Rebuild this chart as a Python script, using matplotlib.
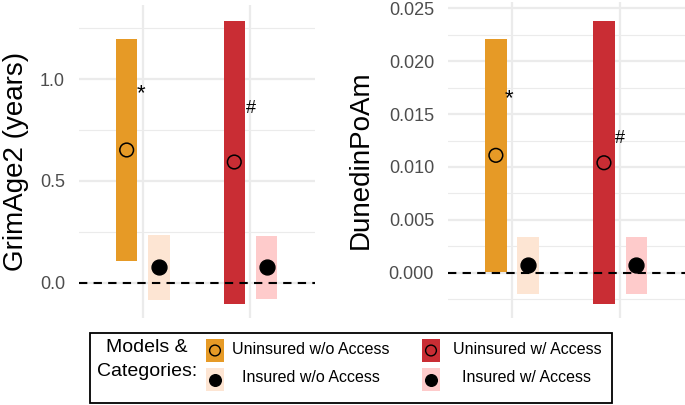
import numpy as np
import matplotlib
matplotlib.use("Agg")
from matplotlib import pyplot as plt
from matplotlib.patches import Rectangle

plt.rcParams['font.family'] = ['Liberation Sans', 'DejaVu Sans']

# data
groups = [1, 2]  # without access, with access

grim_unins_mean = [0.652, 0.593]
grim_unins_lo = [0.108, -0.103]
grim_unins_hi = [1.196, 1.284]
grim_ins_mean = [0.078, 0.078]
grim_ins_lo = [-0.083, -0.078]
grim_ins_hi = [0.235, 0.230]

dun_unins_mean = [0.0111, 0.0104]
dun_unins_lo = [0.0001, -0.0029]
dun_unins_hi = [0.0221, 0.0238]
dun_ins_mean = [0.00075, 0.00075]
dun_ins_lo = [-0.0020, -0.0020]
dun_ins_hi = [0.0034, 0.0034]

grim_marks = ['*', '#']
grim_mark_y = [0.926, 0.857]
dun_marks = ['*', '#']
dun_mark_y = [0.0164, 0.0127]

legend_labels = ['Uninsured w/o Access', 'Insured w/o Access',
                 'Uninsured w/ Access', 'Insured w/ Access']

dark = ['#E69A26', '#C92D34']
light = ['#FDE5D3', '#FECBCB']

W, H = 685, 405
fig = plt.figure(figsize=(6.85, 4.05), dpi=100)


def panel(rect, mean_u, lo_u, hi_u, mean_i, lo_i, hi_i, ylim, major, minor,
          fmt, ylabel, marks, mark_y, mark_dx, mark_size, lpad):
    ax = fig.add_axes(rect)
    x = np.array(groups, dtype=float)
    lo_u = np.array(lo_u); hi_u = np.array(hi_u)
    lo_i = np.array(lo_i); hi_i = np.array(hi_i)
    ax.bar(x - 0.15, hi_u - lo_u, bottom=lo_u, width=0.2, color=dark, zorder=2)
    ax.bar(x + 0.15, hi_i - lo_i, bottom=lo_i, width=0.2, color=light, zorder=2)
    ax.scatter(x - 0.15, mean_u, s=97, facecolors='none', edgecolors='black',
               linewidths=1.1, zorder=4)
    ax.scatter(x + 0.15, mean_i, s=115, color='black', zorder=4)
    ax.axhline(0, color='black', lw=1.5, ls=(0, (4, 3)), zorder=3)
    for xi, m, yv, dx, fs in zip(x, marks, mark_y, mark_dx, mark_size):
        ax.text(xi + dx, yv, m, ha='center', va='center', fontsize=fs, zorder=5)
    ax.set_xlim(0.407, 2.6)
    ax.set_ylim(*ylim)
    ax.set_yticks(major)
    ax.set_yticklabels([fmt.format(v) for v in major])
    ax.set_yticks(minor, minor=True)
    ax.set_xticks(groups)
    ax.set_xticklabels([])
    ax.grid(True, which='major', color='#EBEBEB', lw=1.6, zorder=0)
    ax.grid(True, which='minor', axis='y', color='#EBEBEB', lw=0.8, zorder=0)
    ax.set_axisbelow(True)
    for s in ax.spines.values():
        s.set_visible(False)
    ax.tick_params(axis='both', which='both', length=0)
    ax.tick_params(axis='y', labelsize=13, labelcolor='#4D4D4D', pad=10)
    ax.set_ylabel(ylabel, fontsize=20, labelpad=lpad)
    return ax


bottom = 1 - 318 / H
ax1 = panel([79 / W, bottom, (315 - 79) / W, (318 - 5) / H],
            grim_unins_mean, grim_unins_lo, grim_unins_hi,
            grim_ins_mean, grim_ins_lo, grim_ins_hi,
            (-0.172, 1.363), [0.0, 0.5, 1.0], [0.25, 0.75, 1.25],
            '{:.1f}', 'GrimAge2 (years)', grim_marks, grim_mark_y,
            [-0.02, 0.0], [16, 13], 8)

ax2 = panel([448 / W, bottom, (685 - 448) / W, (318 - 2) / H],
            dun_unins_mean, dun_unins_lo, dun_unins_hi,
            dun_ins_mean, dun_ins_lo, dun_ins_hi,
            (-0.00425, 0.02557), [0.0, 0.005, 0.01, 0.015, 0.02, 0.025],
            [-0.0025, 0.0025, 0.0075, 0.0125, 0.0175, 0.0225],
            '{:.3f}', 'DunedinPoAm', dun_marks, dun_mark_y,
            [-0.03, 0.0], [16, 13], 11)

# legend drawn on an overlay in pixel units
lg = fig.add_axes([0, 0, 1, 1], zorder=10)
lg.set_xlim(0, W)
lg.set_ylim(H, 0)
lg.axis('off')
lg.patch.set_alpha(0)
lg.add_patch(Rectangle((90, 333), 522, 70, fill=False, ec='black', lw=1.3))
lg.text(147, 348, 'Models &', ha='center', va='center', fontsize=14)
lg.text(147, 371, 'Categories:', ha='center', va='center', fontsize=14)

key_x = [206, 206, 422, 422]
key_y = [339, 368, 339, 368]
key_col = [dark[0], light[0], dark[1], light[1]]
filled = [False, True, False, True]
text_x = [311, 311, 527, 527]
for kx, ky, c, f, tx, lab in zip(key_x, key_y, key_col, filled, text_x, legend_labels):
    lg.add_patch(Rectangle((kx, ky), 18, 23, color=c, lw=0))
    if f:
        lg.scatter([kx + 9], [ky + 12], s=70, color='black', zorder=3)
    else:
        lg.scatter([kx + 9], [ky + 11.5], s=60, facecolors='none',
                   edgecolors='black', linewidths=1.0, zorder=3)
    lg.text(tx, ky + 10, lab, ha='center', va='center', fontsize=11.5)

fig.savefig('out.png', dpi=100)
